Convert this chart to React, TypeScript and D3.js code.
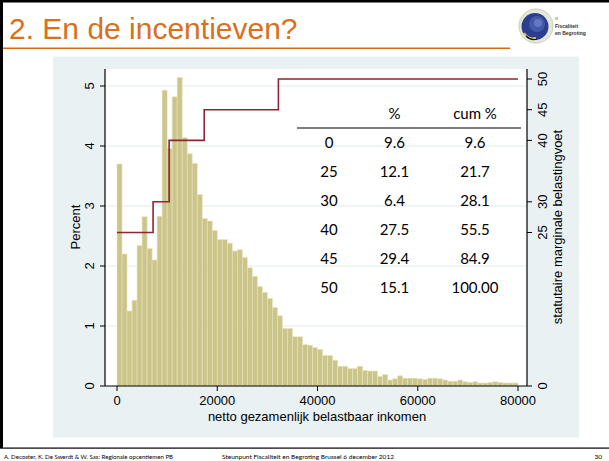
import React from 'react';
import * as d3 from 'd3';

// Histogram: percent of observations per 1000-euro income bin (0 .. 80000)
const binWidth = 1000;
const histPercent = [
  3.70, 2.20, 1.25, 1.43, 2.34, 2.82, 2.29, 2.10, 2.83, 4.93,
  3.96, 4.82, 5.14, 4.14, 3.87, 3.71, 3.19, 2.79, 2.75, 2.59,
  2.44, 2.44, 2.38, 2.25, 2.27, 2.14, 1.97, 1.83, 1.66, 1.56,
  1.46, 1.31, 1.17, 0.96, 0.96, 0.82, 0.82, 0.69, 0.68, 0.64,
  0.61, 0.51, 0.51, 0.43, 0.33, 0.33, 0.29, 0.29, 0.33, 0.26,
  0.25, 0.25, 0.16, 0.19, 0.10, 0.12, 0.17, 0.13, 0.13, 0.13,
  0.12, 0.11, 0.13, 0.13, 0.12, 0.10, 0.08, 0.08, 0.10, 0.07,
  0.06, 0.07, 0.05, 0.05, 0.06, 0.07, 0.06, 0.05, 0.05, 0.05,
];

// Marginal tax rate step function
const rateBreaks = [0, 7200, 10400, 17400, 32200, 80000];
const rates = [25, 30, 40, 45, 50];

const xTicks = [0, 20000, 40000, 60000, 80000];
const yTicks = [0, 1, 2, 3, 4, 5];
const rateTicks = [0, 25, 30, 40, 45, 50];

// Table
const tableHeader = ['', '%', 'cum %'];
const tableRates = ['0', '25', '30', '40', '45', '50'];
const tablePct = ['9.6', '12.1', '6.4', '27.5', '29.4', '15.1'];
const tableCum = ['9.6', '21.7', '28.1', '55.5', '84.9', '100.00'];

const title = '2. En de incentieven?';
const xTitle = 'netto gezamenlijk belastbaar inkomen';
const yTitle = 'Percent';
const y2Title = 'statutaire marginale belastingvoet';
const footerLeft = 'A. Decoster, K. De Swerdt & W. Sas: Regionale opcentiemen PB';
const footerMid = 'Steunpunt Fiscaliteit en Begroting Brussel 6 december 2012';
const footerPage = '30';

const W = 609;
const H = 461;

export default function App() {
  const plotL = 105, plotR = 527, plotT = 69, plotB = 386;
  const x = d3.scaleLinear().domain([0, 80000]).range([117, 518]);
  const y = d3.scaleLinear().domain([0, 5]).range([plotB, 86]);
  const y2 = d3.scaleLinear().domain([0, 50]).range([plotB, 79]);

  const stepPts: [number, number][] = rates.map((r, i) => [rateBreaks[i], r]);
  stepPts.push([rateBreaks[rateBreaks.length - 1], rates[rates.length - 1]]);
  const stepLine = d3.line<[number, number]>()
    .x(d => x(d[0]))
    .y(d => y2(d[1]))
    .curve(d3.curveStepAfter);

  const axisFont = '"Liberation Sans", Arial, sans-serif';
  const tableFont = 'Lato, "Open Sans", sans-serif';
  const colX = [329, 394.5, 475];
  const rowY0 = 148.3;
  const rowStep = 29.0;

  return (
    <svg width={W} height={H} style={{ position: 'absolute', left: 0, top: 0, background: '#fff' }}>
      {/* slide frame */}
      <rect x={0} y={0} width={W} height={H} fill="#ffffff" />
      <rect x={0} y={0} width={W} height={2.5} fill="#000" />
      <rect x={0} y={0} width={3} height={448} fill="#000" />
      <rect x={0} y={447.5} width={W} height={1.2} fill="#000" />

      {/* title */}
      <text x={9} y={39} fontFamily={axisFont} fontSize={30} fill="#d9701c">{title}</text>
      <rect x={3} y={47.5} width={507} height={1.5} fill="#d7690f" />

      {/* logo */}
      <g>
        <circle cx={536} cy={26} r={17} fill="#e4e8dc" stroke="#c9cfae" strokeWidth={1} />
        <circle cx={535} cy={26.5} r={13.5} fill="#2b3d8f" />
        <circle cx={537} cy={24} r={8} fill="#4a62b0" opacity={0.8} />
        <circle cx={538} cy={23} r={4} fill="#6f86c9" opacity={0.7} />
        <path d="M524,33 Q529,40 536,38" fill="none" stroke="#d9c86a" strokeWidth={2} />
        <path d="M526,36 Q531,41 537,39" fill="none" stroke="#111" strokeWidth={1.2} />
        <rect x={555} y={17} width={3} height={3} fill="#c9d08a" />
        <text x={555} y={28} fontFamily={axisFont} fontSize={5} fontWeight="bold" fill="#333">Fiscaliteit</text>
        <text x={555} y={35} fontFamily={axisFont} fontSize={5} fontWeight="bold" fill="#333">en Begroting</text>
      </g>

      {/* graph region */}
      <rect x={53} y={56.5} width={526} height={381} fill="#e9f1f3" />
      {/* plot region */}
      <rect x={plotL} y={plotT} width={plotR - plotL} height={plotB - plotT} fill="#ffffff" />

      {/* gridlines */}
      {yTicks.filter(t => t > 0).map(t => (
        <line key={'g' + t} x1={plotL} x2={plotR} y1={y(t)} y2={y(t)} stroke="#e1ecee" strokeWidth={1} />
      ))}

      {/* histogram bars */}
      {histPercent.map((p, i) => (
        <rect key={'b' + i}
          x={x(i * binWidth)}
          y={y(p)}
          width={x(binWidth) - x(0)}
          height={y(0) - y(p)}
          fill="#ccc58a"
          stroke="#e7e3bf"
          strokeWidth={0.6} />
      ))}

      {/* step line */}
      <path d={stepLine(stepPts) || ''} fill="none" stroke="#8f2433" strokeWidth={1.6} />

      {/* axes */}
      <line x1={plotL} x2={plotL} y1={plotT} y2={plotB} stroke="#000" strokeWidth={1.2} />
      <line x1={plotR} x2={plotR} y1={plotT} y2={plotB} stroke="#000" strokeWidth={1.2} />
      <line x1={plotL} x2={plotR} y1={plotB} y2={plotB} stroke="#000" strokeWidth={1.2} />

      {yTicks.map(t => (
        <g key={'yt' + t}>
          <line x1={plotL - 5} x2={plotL} y1={y(t)} y2={y(t)} stroke="#000" strokeWidth={1} />
          <text transform={`translate(${93.5},${y(t)}) rotate(-90)`} textAnchor="middle"
            fontFamily={axisFont} fontSize={13} fill="#000">{t}</text>
        </g>
      ))}
      {rateTicks.map(t => (
        <g key={'rt' + t}>
          <line x1={plotR} x2={plotR + 5} y1={y2(t)} y2={y2(t)} stroke="#000" strokeWidth={1} />
          <text transform={`translate(${547},${y2(t)}) rotate(-90)`} textAnchor="middle"
            fontFamily={axisFont} fontSize={13} fill="#000">{t}</text>
        </g>
      ))}
      {xTicks.map(t => (
        <g key={'xt' + t}>
          <line x1={x(t)} x2={x(t)} y1={plotB} y2={plotB + 5} stroke="#000" strokeWidth={1} />
          <text x={x(t)} y={405} textAnchor="middle" fontFamily={axisFont} fontSize={13} fill="#000">{t}</text>
        </g>
      ))}

      <text x={317} y={420.5} textAnchor="middle" fontFamily={axisFont} fontSize={13} fill="#000">{xTitle}</text>
      <text transform={`translate(80,227) rotate(-90)`} textAnchor="middle" fontFamily={axisFont} fontSize={13} fill="#000">{yTitle}</text>
      <text transform={`translate(562,227) rotate(-90)`} textAnchor="middle" fontFamily={axisFont} fontSize={13} fill="#000">{y2Title}</text>

      {/* table */}
      {tableHeader.map((h, j) => (
        <text key={'h' + j} x={colX[j]} y={119} textAnchor="middle" fontFamily={tableFont} fontSize={15} fill="#000">{h}</text>
      ))}
      <line x1={297} x2={521} y1={128} y2={128} stroke="#000" strokeWidth={1.2} />
      {tableRates.map((r, i) => (
        <g key={'r' + i}>
          <text x={colX[0]} y={rowY0 + i * rowStep} textAnchor="middle" fontFamily={tableFont} fontSize={15} fill="#000">{r}</text>
          <text x={colX[1]} y={rowY0 + i * rowStep} textAnchor="middle" fontFamily={tableFont} fontSize={15} fill="#000">{tablePct[i]}</text>
          <text x={colX[2]} y={rowY0 + i * rowStep} textAnchor="middle" fontFamily={tableFont} fontSize={15} fill="#000">{tableCum[i]}</text>
        </g>
      ))}

      {/* footer */}
      <text x={4} y={458.5} fontFamily={tableFont} fontSize={6.5} fill="#000" textLength={169} lengthAdjust="spacingAndGlyphs">{footerLeft}</text>
      <text x={222} y={458.5} fontFamily={tableFont} fontSize={6.5} fill="#000" textLength={172} lengthAdjust="spacingAndGlyphs">{footerMid}</text>
      <text x={602} y={458.5} textAnchor="end" fontFamily={tableFont} fontSize={6.5} fill="#000">{footerPage}</text>
    </svg>
  );
}
